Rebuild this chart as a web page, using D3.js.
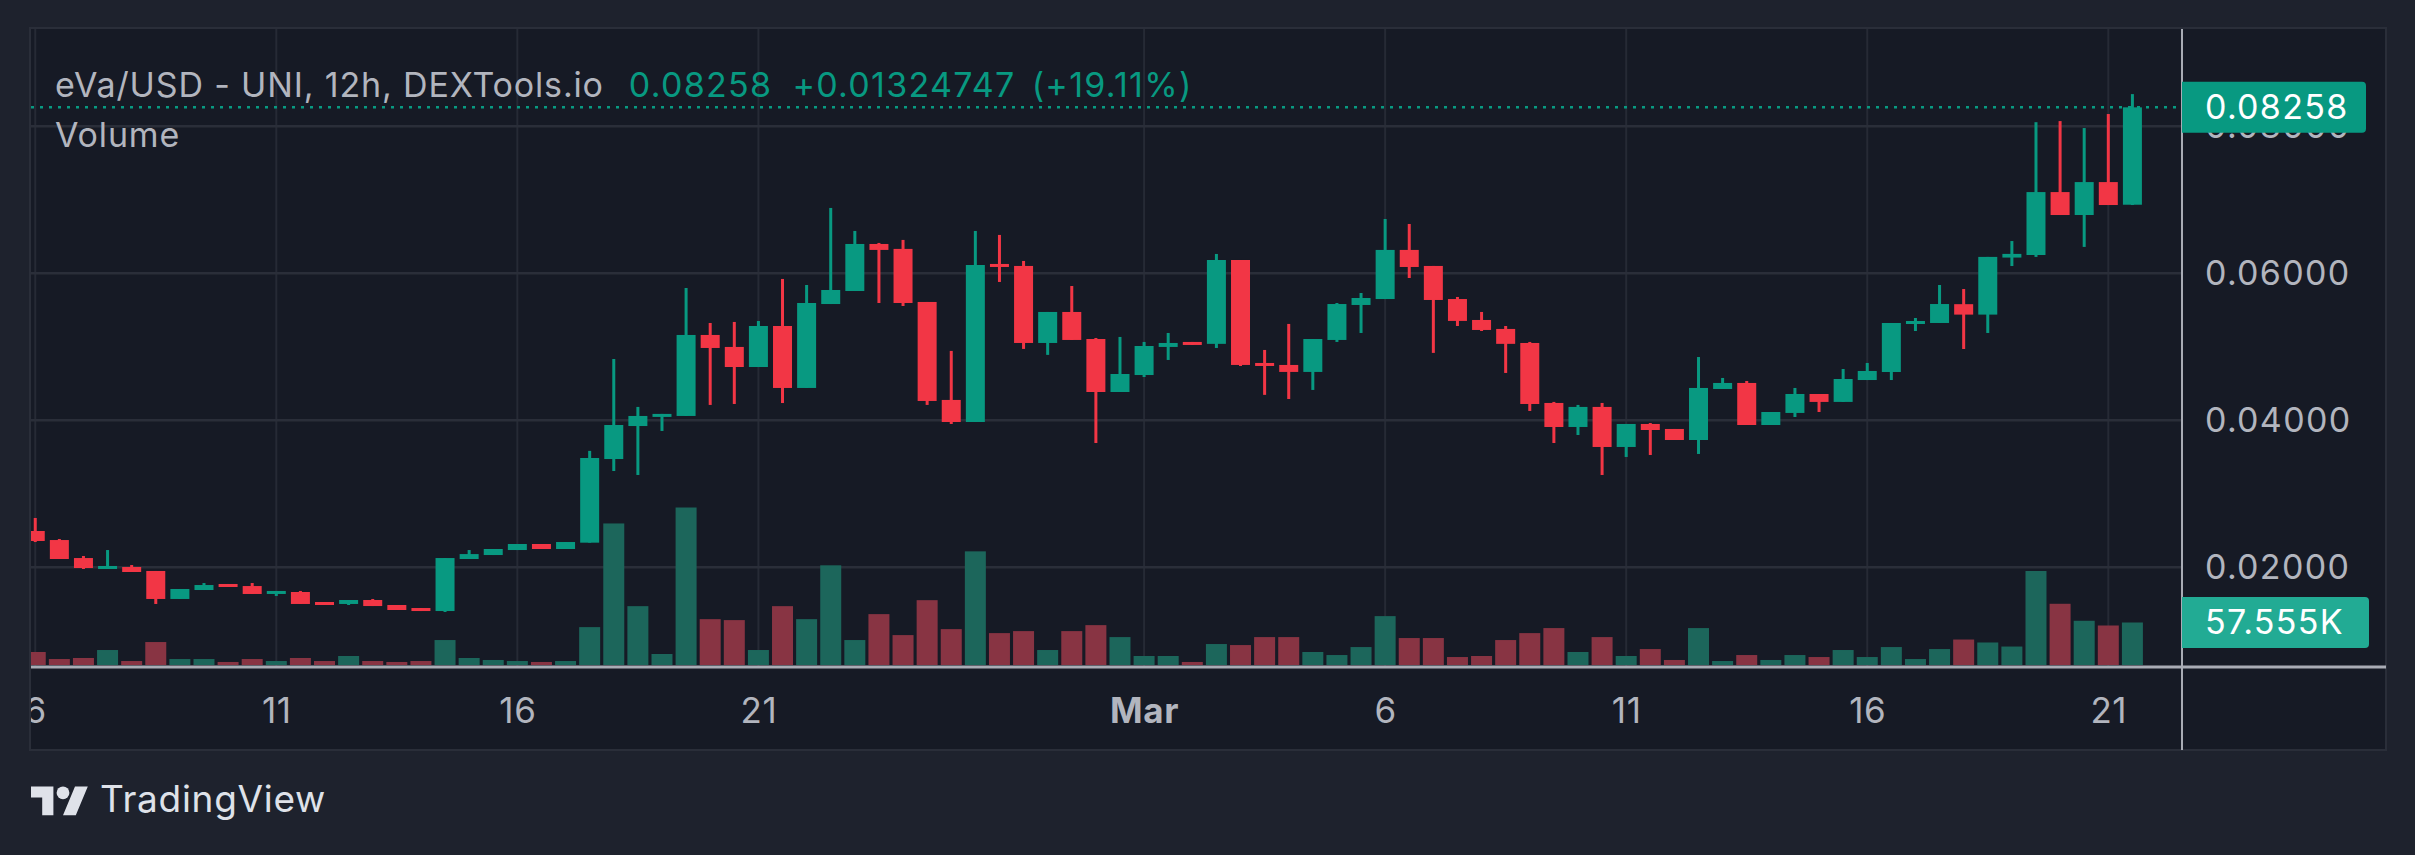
<!DOCTYPE html>
<html><head><meta charset="utf-8">
<script src="https://cdn.jsdelivr.net/npm/d3@7"></script>
<style>
html,body{margin:0;padding:0;background:#1e222d;}
svg{display:block;}
text{font-family:Inter,"Noto Sans",sans-serif;}
</style></head><body>
<svg id="chart" width="2415" height="855"></svg>
<script>
// ---------------- data ----------------
const startTime = Date.UTC(2023, 1, 6, 0, 0);   // first 12h candle
const stepMs = 12 * 3600 * 1000;
const open  = [0.02494,0.02371,0.02126,0.01977,0.02004,0.01950,0.01569,0.01691,0.01773,0.01745,0.01637,0.01664,0.01528,0.01501,0.01555,0.01487,0.01446,0.01405,0.02113,0.02167,0.02235,0.02317,0.02249,0.02335,0.03473,0.03922,0.04046,0.04059,0.05161,0.04998,0.04725,0.05283,0.04440,0.05582,0.05759,0.06399,0.06332,0.05610,0.04277,0.03977,0.06127,0.06100,0.05052,0.05474,0.05106,0.04385,0.04616,0.04998,0.05066,0.05040,0.06181,0.04780,0.04753,0.04658,0.05093,0.05569,0.05650,0.06318,0.06100,0.05650,0.05365,0.05243,0.05052,0.04236,0.03909,0.04182,0.03637,0.03950,0.03882,0.03732,0.04426,0.04508,0.03936,0.04100,0.04358,0.04250,0.04548,0.04657,0.05310,0.05324,0.05580,0.05438,0.06214,0.06249,0.07105,0.06793,0.07241,0.06933];
const high  = [0.02671,0.02385,0.02154,0.02235,0.02031,0.01950,0.01705,0.01786,0.01773,0.01786,0.01678,0.01678,0.01528,0.01555,0.01569,0.01487,0.01446,0.02126,0.02235,0.02249,0.02317,0.02317,0.02344,0.03584,0.04834,0.04182,0.04087,0.05800,0.05324,0.05338,0.05351,0.05923,0.05841,0.06889,0.06576,0.06413,0.06454,0.05610,0.04944,0.06576,0.06522,0.06168,0.05474,0.05827,0.05120,0.05134,0.05066,0.05188,0.05066,0.06263,0.06181,0.04957,0.05311,0.05106,0.05596,0.05732,0.06739,0.06671,0.06100,0.05678,0.05474,0.05283,0.05066,0.04250,0.04209,0.04236,0.03950,0.03963,0.03882,0.04861,0.04576,0.04535,0.04113,0.04440,0.04358,0.04698,0.04780,0.05324,0.05392,0.05841,0.05786,0.06223,0.06439,0.08056,0.08071,0.07976,0.08167,0.08438];
const low   = [0.02344,0.02113,0.01977,0.01977,0.01936,0.01501,0.01569,0.01691,0.01732,0.01637,0.01610,0.01501,0.01487,0.01487,0.01473,0.01419,0.01405,0.01392,0.02113,0.02167,0.02235,0.02249,0.02249,0.02335,0.03310,0.03256,0.03855,0.04059,0.04209,0.04222,0.04725,0.04235,0.04440,0.05582,0.05759,0.05596,0.05555,0.04209,0.03950,0.03977,0.05882,0.04971,0.04890,0.05093,0.03691,0.04385,0.04589,0.04821,0.05025,0.04984,0.04739,0.04346,0.04290,0.04413,0.05066,0.05188,0.05650,0.05936,0.04917,0.05283,0.05215,0.04644,0.04127,0.03691,0.03800,0.03256,0.03501,0.03528,0.03732,0.03542,0.04426,0.03936,0.03936,0.04045,0.04113,0.04250,0.04548,0.04548,0.05215,0.05324,0.04970,0.05188,0.06099,0.06223,0.06793,0.06359,0.06929,0.06929];
const close = [0.02358,0.02113,0.01990,0.02018,0.01936,0.01569,0.01705,0.01759,0.01732,0.01637,0.01678,0.01501,0.01487,0.01555,0.01473,0.01419,0.01405,0.02126,0.02180,0.02249,0.02317,0.02249,0.02344,0.03487,0.03936,0.04059,0.04087,0.05161,0.04984,0.04725,0.05283,0.04440,0.05596,0.05773,0.06399,0.06318,0.05596,0.04263,0.03977,0.06113,0.06086,0.05052,0.05474,0.05093,0.04385,0.04630,0.05011,0.05052,0.05025,0.06181,0.04753,0.04739,0.04658,0.05106,0.05582,0.05664,0.06318,0.06086,0.05637,0.05352,0.05229,0.05040,0.04222,0.03909,0.04182,0.03637,0.03950,0.03868,0.03732,0.04440,0.04508,0.03936,0.04113,0.04358,0.04250,0.04562,0.04671,0.05324,0.05351,0.05582,0.05438,0.06223,0.06264,0.07105,0.06793,0.07241,0.06929,0.08258];
const volume = [17600,8100,9500,20300,5400,31100,8100,8100,4100,8100,5400,9500,5400,12200,5400,4100,5400,33800,9500,6800,5400,4100,5400,51300,191700,79700,14900,213300,62100,60800,20300,79700,62100,135000,33800,68900,40500,87800,48600,153900,43200,45900,20300,45900,54000,37800,12200,12200,4100,28400,27000,37800,37800,17600,13500,24300,66200,36500,36500,10800,12200,33800,43200,50000,17600,37800,12200,21600,6800,50000,5400,13500,6800,13500,10800,20300,10800,24300,8100,21600,34500,30500,25000,127300,82900,59900,53500,57555];
const priceTicks = [0.02, 0.04, 0.06, 0.08];
const timeTicks = ["2023-02-06","2023-02-11","2023-02-16","2023-02-21","2023-03-01","2023-03-06","2023-03-11","2023-03-16","2023-03-21"];
const legendSymbol = "eVa/USD - UNI, 12h, DEXTools.io";
const lastPrice = 0.08258;
const changeText = "+0.01324747";
const changePctText = "(+19.11%)";
const volumeTitle = "Volume";
const lastVolume = 57555;
const lastVolumeText = "57.555K";
const brandText = "TradingView";

// ---------------- layout ----------------
const W = 2415, H = 855;
const panel = {x0: 30, y0: 28, x1: 2386, y1: 750};
const plot = {left: 31, right: 2182, top: 29, bottom: 667};
const UP = "#089981", DOWN = "#f23645";
const VUP = "#1c665b", VDOWN = "#883443";

const candles = open.map((o, i) => ({
  t: new Date(startTime + i * stepMs), o, h: high[i], l: low[i], c: close[i], v: volume[i]
}));

const svg = d3.select("#chart");
const x = d3.scaleUtc().domain([new Date(Date.UTC(2023,1,11)), new Date(Date.UTC(2023,2,21))]).range([276.3, 2108.3]);
const y = d3.scaleLinear().domain([0.02, 0.08]).range([567.3, 126.3]);
const yv = d3.scaleLinear().domain([0, lastVolume]).range([665, 622.5]);

svg.append("rect").attr("width", W).attr("height", H).attr("fill", "#1e222d");
svg.append("rect").attr("x", panel.x0).attr("y", panel.y0)
  .attr("width", panel.x1 - panel.x0).attr("height", panel.y1 - panel.y0)
  .attr("fill", "#161a25").attr("stroke", "#2a2e39").attr("stroke-width", 2);

const defs = svg.append("defs");
defs.append("clipPath").attr("id", "plotClip").append("rect")
  .attr("x", plot.left).attr("y", plot.top).attr("width", plot.right - plot.left).attr("height", plot.bottom - plot.top);
defs.append("clipPath").attr("id", "timeClip").append("rect")
  .attr("x", plot.left).attr("y", plot.bottom).attr("width", plot.right - plot.left).attr("height", panel.y1 - plot.bottom);

const tDates = timeTicks.map(s => new Date(s + "T00:00:00Z"));

// grid
const grid = svg.append("g").attr("clip-path", "url(#plotClip)");
grid.selectAll("line.v").data(tDates).join("line").attr("class", "v")
  .attr("x1", d => x(d)).attr("x2", d => x(d)).attr("y1", plot.top).attr("y2", plot.bottom)
  .attr("stroke", "#262a35").attr("stroke-width", 2);
grid.selectAll("line.h").data(priceTicks).join("line").attr("class", "h")
  .attr("x1", plot.left).attr("x2", plot.right).attr("y1", d => y(d)).attr("y2", d => y(d))
  .attr("stroke", "#2a2e39").attr("stroke-width", 2.5);

const chartG = svg.append("g").attr("clip-path", "url(#plotClip)");
// volume
chartG.selectAll("rect.vol").data(candles).join("rect").attr("class", "vol")
  .attr("x", d => x(d.t) - 10.5).attr("width", 21)
  .attr("y", d => yv(d.v)).attr("height", d => yv(0) - yv(d.v))
  .attr("fill", d => d.c >= d.o ? VUP : VDOWN);

// last price dotted line
chartG.append("line").attr("x1", plot.left).attr("x2", plot.right)
  .attr("y1", y(lastPrice)).attr("y2", y(lastPrice))
  .attr("stroke", UP).attr("stroke-width", 2.5).attr("stroke-dasharray", "3 6");

// candles
const cg = chartG.selectAll("g.candle").data(candles).join("g").attr("class", "candle")
  .attr("fill", d => d.c >= d.o ? UP : DOWN);
cg.append("rect").attr("x", d => x(d.t) - 1.5).attr("width", 3)
  .attr("y", d => y(d.h)).attr("height", d => Math.max(1, y(d.l) - y(d.h)));
cg.append("rect").attr("x", d => x(d.t) - 9.5).attr("width", 19)
  .attr("y", d => y(Math.max(d.o, d.c))).attr("height", d => Math.max(2, Math.abs(y(d.o) - y(d.c))));

// axes lines
svg.append("line").attr("x1", plot.left).attr("x2", panel.x1).attr("y1", plot.bottom).attr("y2", plot.bottom)
  .attr("stroke", "#a9acb5").attr("stroke-width", 3);
svg.append("line").attr("x1", plot.right).attr("x2", plot.right).attr("y1", panel.y0 + 1).attr("y2", panel.y1)
  .attr("stroke", "#a9acb5").attr("stroke-width", 2);

// price axis labels
const fmt = d3.format(".5f");
const AX_FS = 34, AX_LS = 1.3;
const pAxis = svg.append("g").attr("transform", `translate(${plot.right},0)`)
  .call(d3.axisRight(y).tickValues(priceTicks).tickFormat(fmt).tickSize(0).tickPadding(23));
pAxis.select(".domain").remove();
pAxis.selectAll("text").attr("fill", "#b2b5be").attr("font-size", AX_FS).attr("letter-spacing", AX_LS)
  .attr("font-family", "Inter,'Noto Sans',sans-serif");

// last price tag
const tag = svg.append("g");
tag.append("path").attr("d", `M${plot.right},${y(lastPrice)-25.5}h180a4,4 0 0 1 4,4v43a4,4 0 0 1 -4,4h-180z`).attr("fill", UP);
tag.append("text").attr("x", plot.right + 23).attr("y", y(lastPrice)).attr("dy", "0.35em")
  .attr("fill", "#ffffff").attr("font-size", AX_FS).attr("letter-spacing", AX_LS).text(fmt(lastPrice));
// last volume tag
const vt = svg.append("g");
vt.append("path").attr("d", `M${plot.right},${yv(lastVolume)-25.5}h183a4,4 0 0 1 4,4v43a4,4 0 0 1 -4,4h-183z`).attr("fill", "#22ab94");
vt.append("text").attr("x", plot.right + 23).attr("y", yv(lastVolume)).attr("dy", "0.35em")
  .attr("fill", "#ffffff").attr("font-size", AX_FS).attr("letter-spacing", AX_LS).text(lastVolumeText);

// time axis
const tAxis = svg.append("g").attr("clip-path", "url(#timeClip)").append("g")
  .attr("transform", `translate(0,${plot.bottom})`)
  .call(d3.axisBottom(x).tickValues(tDates).tickSize(0).tickPadding(31)
    .tickFormat(d => d.getUTCDate() === 1 ? d3.utcFormat("%b")(d) : d.getUTCDate()));
tAxis.select(".domain").remove();
tAxis.selectAll("text").attr("fill", "#b2b5be").attr("font-size", 35).attr("letter-spacing", 0.6)
  .attr("font-family", "Inter,'Noto Sans',sans-serif")
  .attr("font-weight", d => d.getUTCDate() === 1 ? 700 : 400)
  .attr("dy", "0.71em");

// legend
const leg = svg.append("text").attr("x", 55).attr("y", 97).attr("font-size", 34).attr("letter-spacing", 0.85);
leg.append("tspan").attr("fill", "#b2b5be").text(legendSymbol);
leg.append("tspan").attr("fill", UP).attr("dx", 25).attr("letter-spacing", 1.3).text(fmt(lastPrice));
leg.append("tspan").attr("fill", UP).attr("dx", 20).attr("letter-spacing", 1.3).text(changeText);
leg.append("tspan").attr("fill", UP).attr("dx", 16).attr("letter-spacing", 1.3).text(changePctText);
svg.append("text").attr("x", 55).attr("y", 147).attr("font-size", 34).attr("letter-spacing", 0.85)
  .attr("fill", "#b2b5be").text(volumeTitle);

// TradingView brand
const logo = svg.append("g").attr("transform", "translate(31,780) scale(1.6)").attr("fill", "#dfe2e9");
logo.append("path").attr("d", "M14 22H7V11H0V4h14v18zM28 22h-8l7.5-18h8L28 22z");
logo.append("circle").attr("cx", 20).attr("cy", 8).attr("r", 4);
svg.append("text").attr("x", 100).attr("y", 812).attr("font-size", 37).attr("letter-spacing", 0.7)
  .attr("fill", "#dfe2e9").text(brandText);
</script>
</body></html>
